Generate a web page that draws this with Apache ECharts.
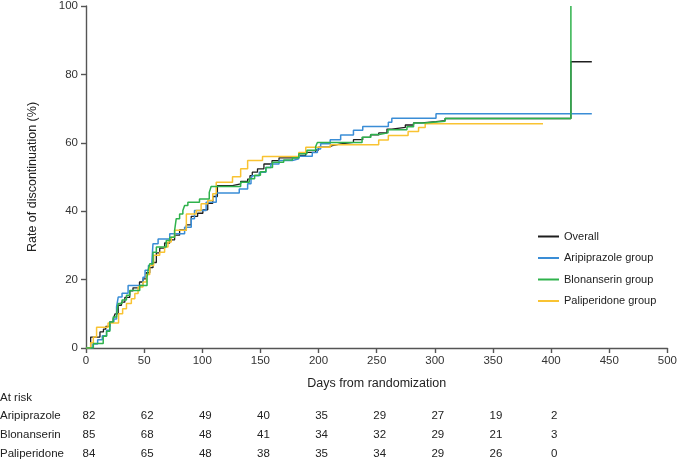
<!DOCTYPE html>
<html><head><meta charset="utf-8">
<script src="https://cdn.jsdelivr.net/npm/echarts@6/dist/echarts.min.js"></script>
<style>html,body{margin:0;padding:0;background:#fff}#c{width:680px;height:459px}</style>
</head><body><div id="c"></div>
<script>
// Kaplan-Meier style cumulative discontinuation (%), [day, percent] change points
const overall = [[0,0],[4,3.2],[12,4.7],[15,5.5],[17,6.3],[20.5,7.6],[23.4,8.5],[25,10],[27.7,12.5],[30.5,13.4],[33.4,14.8],[37.6,16.7],[40.4,17.6],[46,19.3],[49,20.2],[51.9,22],[54.8,23.5],[57.6,25],[60.5,27.8],[63.4,29.2],[67.6,30.7],[72,31.6],[76.2,33],[80.5,34.5],[86.3,36],[90.5,38.5],[96,39.4],[100.5,40.4],[104.7,42.3],[109,44.3],[113,47.5],[126,48],[133,48.7],[139,49.4],[141,50.4],[143,51.4],[147.5,52.4],[153,53.8],[160,54.8],[166,55.6],[183,56.3],[189,57.2],[197.5,57.9],[200,58.7],[209,59.2],[212,59.7],[219,60.1],[230,60.9],[238,61.6],[244.6,62.3],[251.7,62.9],[258.8,64],[263,64.5],[274.6,65.2],[281.7,65.8],[288.8,66.2],[301,66.5],[308.8,67.1],[417,83.7],[435,83.7]];
const aripiprazole = [[0,0],[6,1.2],[10,2.4],[14,3.6],[17.7,5.2],[20.5,7.6],[24,8.5],[26.3,12],[27.7,14.9],[31,16],[36.2,18.3],[49,20.7],[50.8,22.7],[53.7,24.1],[56.6,25],[57.6,30.5],[62,31.9],[72,33.4],[84.8,35.3],[90.5,37.8],[93.3,40.2],[103.3,42.6],[112,45.3],[131.8,46.5],[139,48],[141.9,49.5],[143,50.4],[149,51.4],[154.7,52.8],[159,53.8],[166,54.8],[177.5,55.3],[183,56.1],[194.6,57.2],[199,58.2],[201.8,59.7],[210,60.9],[219,62.3],[230,63.7],[238,64.8],[260,66],[263,67.2],[301,68.5],[435,68.5]];
const blonanserin = [[0,0],[6.3,1.3],[14.8,3.4],[17.7,4.9],[20.5,7.6],[23.4,9.1],[26.3,10.1],[27.7,13],[31,14],[34.8,15.4],[37.7,16.8],[46.2,18.3],[52.5,20.7],[53.4,22.7],[54.8,24.6],[57.6,28],[60.5,29.5],[69,31.4],[72,32.4],[76.2,34.4],[77.6,37.8],[80.5,39.2],[83.3,40.2],[84.8,41.7],[87.6,42.6],[97.6,43.6],[106,45.5],[107.6,47.2],[133,48.5],[140.4,49.5],[145,50.5],[150,51.5],[154.7,52.8],[160.4,54.3],[170,55],[177.5,55.6],[183,56.8],[190,57.8],[197.5,58.9],[199,60.1],[237.4,61.6],[245,62.4],[252,62.9],[259.7,63.8],[276,64.7],[281.7,65.8],[291,66.3],[308.8,67.1],[417,100]];
const paliperidone = [[0,0],[4,1.5],[6.3,3.2],[9.1,6.1],[19,7.3],[28,10],[31.5,11.5],[34.8,13],[39,14.4],[42,15.9],[44.8,17.8],[49,19.3],[52,21.5],[54.8,24.1],[58.2,27.1],[63.4,28],[67.6,29.5],[70.5,31],[73.3,32.4],[76.2,34.4],[86.3,39.2],[94.8,40.2],[99,42.2],[104.7,43.1],[109,45.1],[112,48.5],[126,50.1],[133,52.4],[139,54.8],[151.8,56],[183,57.2],[189,58.7],[210,59.4],[251.7,60.8],[260,62.1],[277,63.3],[286,64.5],[291.7,65.6],[393,65.6]];

const seriesNames = ['Overall','Aripiprazole group','Blonanserin group','Paliperidone group'];
const seriesColors = ['#1e1e1e','#3a8dd6','#2fb24c','#f9c332'];

const riskDays = [0,50,100,150,200,250,300,350,400];
const riskLabels = ['Aripiprazole','Blonanserin','Paliperidone'];
const riskAripiprazole = [82,62,49,40,35,29,27,19,2];
const riskBlonanserin = [85,68,48,41,34,32,29,21,3];
const riskPaliperidone = [84,65,48,38,35,34,29,26,0];

const chart = echarts.init(document.getElementById('c'), null, {renderer:'canvas'});
const FONT = '"Liberation Sans", Arial, Helvetica, sans-serif';
const dataSets = [overall, aripiprazole, blonanserin, paliperidone];
const zs = [2,3,5,4];
const widths = [1.3,1.5,1.5,1.5];

chart.setOption({
  animation: false,
  backgroundColor: '#fff',
  textStyle: {fontFamily: FONT},
  grid: {left: 86, right: 10, top: 5, bottom: 111, containLabel: false},
  xAxis: {
    type: 'value', min: 0, max: 500, interval: 50,
    name: 'Days from randomization', nameLocation: 'middle', nameGap: 29,
    nameTextStyle: {fontSize: 12.5, color: '#222', fontFamily: FONT},
    axisLine: {show: true, lineStyle: {color: '#555', width: 1.4}},
    axisTick: {show: true, length: 5, lineStyle: {color: '#555', width: 1.4}},
    axisLabel: {fontSize: 11.5, color: '#333', margin: 7, fontFamily: FONT},
    splitLine: {show: false}
  },
  yAxis: {
    type: 'value', min: 0, max: 100, interval: 20,
    name: 'Rate of discontinuation (%)', nameLocation: 'middle', nameGap: 47,
    nameTextStyle: {fontSize: 12.5, color: '#222', fontFamily: FONT},
    axisLine: {show: true, lineStyle: {color: '#555', width: 1.4}},
    axisTick: {show: true, length: 5, lineStyle: {color: '#555', width: 1.4}},
    axisLabel: {fontSize: 11.5, color: '#333', margin: 8, fontFamily: FONT},
    splitLine: {show: false}
  },
  legend: {
    orient: 'vertical', left: 533, top: 225,
    itemWidth: 21, itemHeight: 2, itemGap: 8.5, icon: 'rect',
    textStyle: {fontSize: 11, color: '#222', fontFamily: FONT, lineHeight: 13},
    data: seriesNames
  },
  series: dataSets.map((d, i) => ({
    name: seriesNames[i], type: 'line', step: 'end', data: d,
    symbol: 'none', showSymbol: false, z: zs[i],
    color: seriesColors[i],
    lineStyle: {color: seriesColors[i], width: widths[i]},
    emphasis: {disabled: true}
  }))
});

const riskRows = [riskAripiprazole, riskBlonanserin, riskPaliperidone];
const rowY = [398, 416, 435, 454];
const TF = '11.5px ' + FONT;
const g = [];
g.push({type:'text', x: 0, y: rowY[0], style:{text:'At risk', fill:'#222', font:TF, textVerticalAlign:'middle', verticalAlign:'middle'}});
riskRows.forEach((row, r) => {
  g.push({type:'text', x: 0, y: rowY[r+1], style:{text: riskLabels[r], fill:'#222', font:TF, textVerticalAlign:'middle', verticalAlign:'middle'}});
  row.forEach((v, k) => {
    const px = chart.convertToPixel({xAxisIndex: 0}, riskDays[k]) + 3;
    g.push({type:'text', x: px, y: rowY[r+1], style:{text: String(v), fill:'#222', font:TF, textAlign:'center', align:'center', textVerticalAlign:'middle', verticalAlign:'middle'}});
  });
});
chart.setOption({graphic: g});
</script>
</body></html>
